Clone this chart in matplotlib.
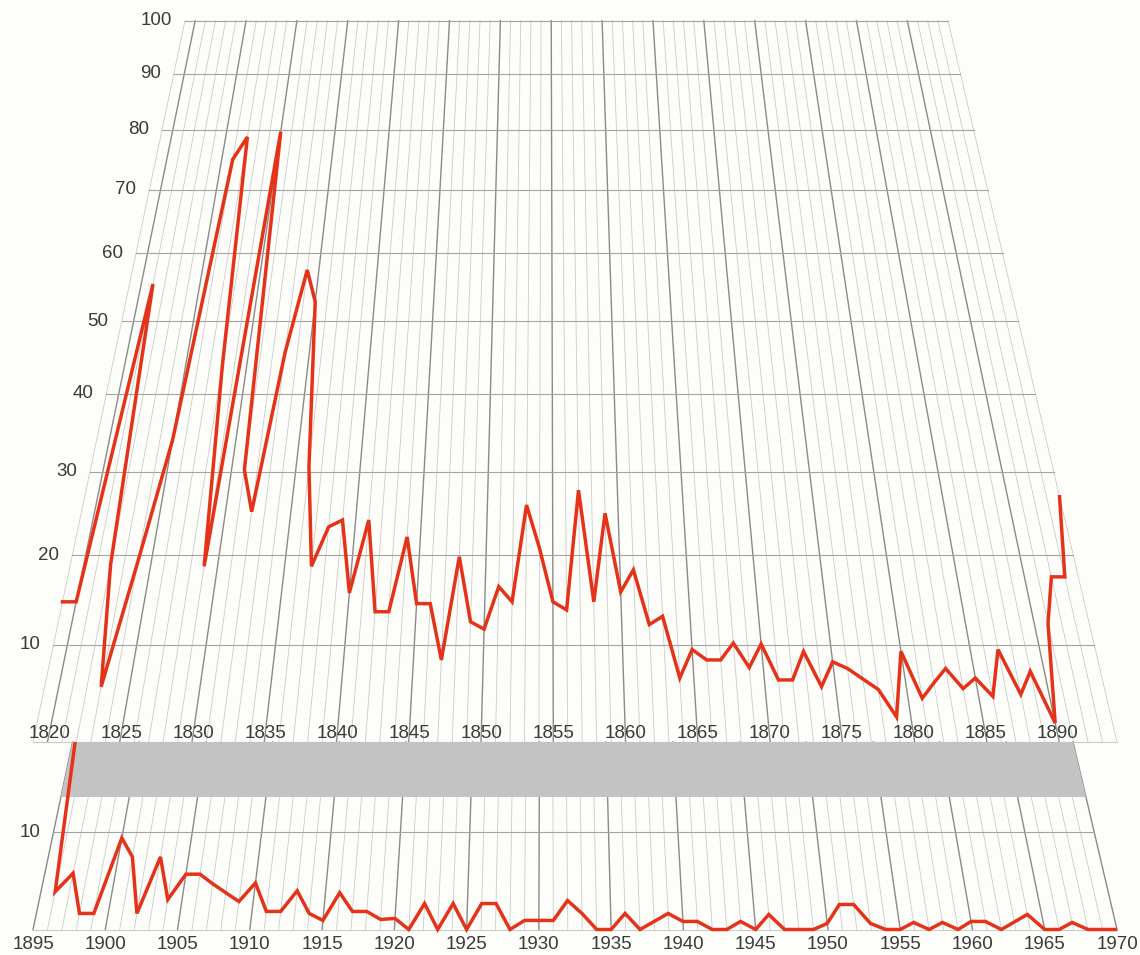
import numpy as np
import matplotlib
matplotlib.use("Agg")
import matplotlib.pyplot as plt
from matplotlib.transforms import Transform, offset_copy
from matplotlib.patches import Polygon

# ---------------- data ----------------
years_top = list(range(1819, 1895))
values_top = [14.7, 14.7, 55.4, 18.9, 5.6, 19.3, 34.0, 75.0, 78.8, 44.0,
              18.7, 79.7, 30.2, 25.1, 45.6, 57.5, 52.8, 30.6, 18.7, 23.3,
              24.1, 15.7, 24.1, 13.6, 13.6, 22.1, 14.5, 14.5, 8.4, 19.8,
              12.5, 11.7, 16.4, 14.7, 25.9, 20.8, 14.7, 13.8, 27.7, 14.7,
              24.9, 15.8, 18.3, 12.2, 13.1, 6.5, 9.5, 8.4, 8.4, 10.2,
              7.6, 10.1, 6.3, 6.3, 9.3, 5.6, 8.2, 7.5, 6.4, 5.3,
              2.5, 9.3, 4.4, 6.0, 7.5, 5.4, 6.5, 4.6, 9.5, 4.8,
              7.2, 1.9, 12.3, 17.5, 17.5, 26.9]

years_low = list(range(1895, 1971))
values_low = [24.0, 3.8, 5.7, 1.6, 1.6, 9.4, 7.4, 1.6, 7.4, 3.0,
              5.6, 5.6, 4.6, 3.7, 2.8, 4.7, 1.8, 1.8, 3.9, 1.6,
              0.9, 3.7, 1.8, 1.8, 1.0, 1.1, 0.0, 2.6, 0.0, 2.6,
              0.0, 2.6, 2.6, 0.0, 0.9, 0.9, 0.9, 2.9, 1.6, 0.0,
              0.0, 1.6, 0.0, 0.8, 1.6, 0.8, 0.8, 0.0, 0.0, 0.8,
              0.0, 1.5, 0.0, 0.0, 0.0, 0.6, 2.5, 2.5, 0.6, 0.0,
              0.0, 0.7, 0.0, 0.7, 0.0, 0.8, 0.8, 0.0, 0.75, 1.5,
              0.0, 0.0, 0.7, 0.0, 0.0, 0.0]

top_value_ticks = [10, 20, 30, 40, 50, 60, 70, 80, 90, 100]
top_year_ticks = list(range(1820, 1891, 5))
low_value_ticks = [10]
low_year_ticks = list(range(1895, 1971, 5))

# ---------------- perspective plane geometry (pixels) ----------------
W, H = 1140, 955
SPAN = 75.0          # years covered by each panel
Y0 = 742.0           # screen y of value 0 (top panel)
DEPTH = 721.3        # screen height from value 0 to value 100
K, C = 10.098, 0.004 # projective compression of the value axis
XL0, XL1 = 33.0, 185.0   # left edge x at value 0 / value 100
XR0, XR1 = 1117.0, 948.0 # right edge x at value 0 / value 100
LOW_SHIFT = 187.5        # lower panel drawn lower by this many pixels
BAND_LO, BAND_HI = 13.85, 20.06  # grey break band (value units of lower panel)


class PlaneTransform(Transform):
    """Maps (year, value) on a receding plane onto screen pixels."""
    input_dims = 2
    output_dims = 2
    is_separable = False
    has_inverse = False

    def __init__(self, year0, shift):
        super().__init__()
        self.year0 = year0
        self.shift = shift

    def transform_non_affine(self, xy):
        xy = np.asarray(xy, dtype=float).reshape(-1, 2)
        u = (xy[:, 0] - self.year0) / SPAN
        v = xy[:, 1]
        d = K * v / (1.0 + C * v)
        t = d / DEPTH
        xl = XL0 + (XL1 - XL0) * t
        xr = XR0 + (XR1 - XR0) * t
        x = xl + (xr - xl) * u
        y = Y0 - d + self.shift
        return np.column_stack([x, y])


fig = plt.figure(figsize=(W / 100, H / 100), dpi=100)
fig.patch.set_facecolor("#fdfdfa")
ax = fig.add_axes([0, 0, 1, 1])
ax.set_xlim(0, W)
ax.set_ylim(H, 0)
ax.axis("off")

t_top = PlaneTransform(1819, 0.0) + ax.transData
t_low = PlaneTransform(1895, LOW_SHIFT) + ax.transData

LIGHT = "#cbcbcb"
DARK = "#8a8a8a"
HLINE = "#a3a3a3"
RED = "#e5331a"
TXT = "#3a3a3a"
FONT = "Liberation Sans"
FS = 13.5


def draw_grid(trans, y_start, vmax, hvals):
    for yr in range(y_start, y_start + int(SPAN) + 1):
        major = (yr % 5 == 0)
        ax.plot([yr, yr], [0, vmax], transform=trans,
                color=DARK if major else LIGHT,
                lw=1.0 if major else 0.6, zorder=1)
    for v in hvals:
        ax.plot([y_start, y_start + SPAN], [v, v], transform=trans,
                color=HLINE if v != 0 else LIGHT, lw=0.8, zorder=1.5)


# top panel
draw_grid(t_top, 1819, 100, [0] + top_value_ticks)
ax.plot(years_top, values_top, transform=t_top, color=RED, lw=2.5,
        solid_joinstyle="miter", zorder=5)

for v in top_value_ticks:
    tr = offset_copy(t_top, fig=fig, x=-13, y=0, units="dots")
    ax.text(1819, v, str(v), transform=tr, ha="right", va="center",
            fontsize=FS, color=TXT, family=FONT, zorder=6)
for yr in top_year_ticks:
    ax.text(yr, 0.8, str(yr), transform=t_top, ha="center", va="center",
            fontsize=FS, color=TXT, family=FONT, zorder=6)

# lower panel
draw_grid(t_low, 1895, BAND_HI, [0] + low_value_ticks)
band = Polygon([(1895, BAND_LO), (1970, BAND_LO), (1970, BAND_HI), (1895, BAND_HI)],
               closed=True, transform=t_low, facecolor="#c3c3c3",
               edgecolor="none", zorder=3)
ax.add_patch(band)

clip = Polygon([(1895, -3), (1970, -3), (1970, BAND_HI), (1895, BAND_HI)],
               closed=True, transform=t_low, facecolor="none", edgecolor="none")
ax.add_patch(clip)
low_line, = ax.plot(years_low, values_low, transform=t_low, color=RED, lw=2.5,
                    solid_joinstyle="miter", zorder=5)
low_line.set_clip_path(clip)

for v in low_value_ticks:
    tr = offset_copy(t_low, fig=fig, x=-13, y=0, units="dots")
    ax.text(1895, v, str(v), transform=tr, ha="right", va="center",
            fontsize=FS, color=TXT, family=FONT, zorder=6)
for yr in low_year_ticks:
    tr = offset_copy(t_low, fig=fig, x=0, y=-14.5, units="dots")
    ax.text(yr, 0, str(yr), transform=tr, ha="center", va="center",
            fontsize=FS, color=TXT, family=FONT, zorder=6)

fig.savefig("out.png", dpi=100, facecolor=fig.get_facecolor())
